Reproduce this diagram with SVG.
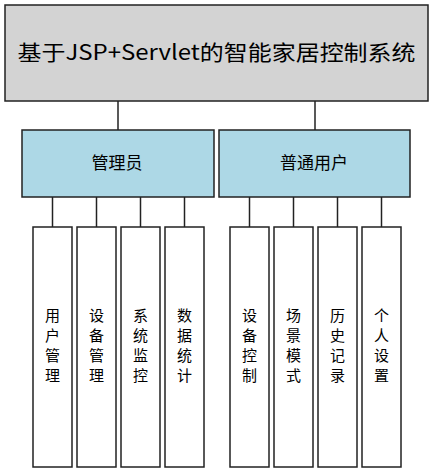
<svg xmlns="http://www.w3.org/2000/svg" width="433" height="473" viewBox="0 0 433 473">
<style>
.box{stroke:#222;stroke-width:1.5}
.top{fill:#d3d3d3}
.mid{fill:#add8e6}
.leaf{fill:#ffffff}
.t{font-family:"Microsoft YaHei","Noto Sans CJK SC","Noto Sans",sans-serif;fill:#000;text-anchor:middle}
.tt{font-size:21px}
.mt{font-size:17px}
.lt{font-size:15px}
#connectors line{stroke:#222;stroke-width:1.5}
</style>
<rect width="433" height="473" fill="#fff"/>
<g id="connectors">
<line x1="118" y1="101" x2="118" y2="130"/>
<line x1="315" y1="101" x2="315" y2="130"/>
<line x1="52.5" y1="197" x2="52.5" y2="227"/>
<line x1="96.5" y1="197" x2="96.5" y2="227"/>
<line x1="140.5" y1="197" x2="140.5" y2="227"/>
<line x1="184.5" y1="197" x2="184.5" y2="227"/>
<line x1="249.5" y1="197" x2="249.5" y2="227"/>
<line x1="293.5" y1="197" x2="293.5" y2="227"/>
<line x1="337.5" y1="197" x2="337.5" y2="227"/>
<line x1="381.5" y1="197" x2="381.5" y2="227"/>
</g>
<g id="root">
<rect class="box top" x="5" y="5" width="423" height="96"/>
<text class="t tt" x="216.5" y="60" textLength="398" lengthAdjust="spacingAndGlyphs">基于JSP+Servlet的智能家居控制系统</text>
</g>
<g id="admin">
<rect class="box mid" x="22" y="130" width="192" height="67"/>
<text class="t mt" x="117" y="169">管理员</text>
</g>
<g id="user">
<rect class="box mid" x="219" y="130" width="191" height="67"/>
<text class="t mt" x="314" y="169">普通用户</text>
</g>
<g id="leaf-user-mgmt">
<rect class="box leaf" x="33" y="227" width="39" height="240"/>
<text class="t lt" x="52.5"><tspan x="52.5" y="321">用</tspan><tspan x="52.5" y="341">户</tspan><tspan x="52.5" y="361">管</tspan><tspan x="52.5" y="381">理</tspan></text>
</g>
<g id="leaf-device-mgmt">
<rect class="box leaf" x="77" y="227" width="39" height="240"/>
<text class="t lt"><tspan x="96.5" y="321">设</tspan><tspan x="96.5" y="341">备</tspan><tspan x="96.5" y="361">管</tspan><tspan x="96.5" y="381">理</tspan></text>
</g>
<g id="leaf-monitor">
<rect class="box leaf" x="121" y="227" width="39" height="240"/>
<text class="t lt"><tspan x="140.5" y="321">系</tspan><tspan x="140.5" y="341">统</tspan><tspan x="140.5" y="361">监</tspan><tspan x="140.5" y="381">控</tspan></text>
</g>
<g id="leaf-stats">
<rect class="box leaf" x="165" y="227" width="39" height="240"/>
<text class="t lt"><tspan x="184.5" y="321">数</tspan><tspan x="184.5" y="341">据</tspan><tspan x="184.5" y="361">统</tspan><tspan x="184.5" y="381">计</tspan></text>
</g>
<g id="leaf-device-ctrl">
<rect class="box leaf" x="230" y="227" width="39" height="240"/>
<text class="t lt"><tspan x="249.5" y="321">设</tspan><tspan x="249.5" y="341">备</tspan><tspan x="249.5" y="361">控</tspan><tspan x="249.5" y="381">制</tspan></text>
</g>
<g id="leaf-scene">
<rect class="box leaf" x="274" y="227" width="39" height="240"/>
<text class="t lt"><tspan x="293.5" y="321">场</tspan><tspan x="293.5" y="341">景</tspan><tspan x="293.5" y="361">模</tspan><tspan x="293.5" y="381">式</tspan></text>
</g>
<g id="leaf-history">
<rect class="box leaf" x="318" y="227" width="39" height="240"/>
<text class="t lt"><tspan x="337.5" y="321">历</tspan><tspan x="337.5" y="341">史</tspan><tspan x="337.5" y="361">记</tspan><tspan x="337.5" y="381">录</tspan></text>
</g>
<g id="leaf-settings">
<rect class="box leaf" x="362" y="227" width="39" height="240"/>
<text class="t lt"><tspan x="381.5" y="321">个</tspan><tspan x="381.5" y="341">人</tspan><tspan x="381.5" y="361">设</tspan><tspan x="381.5" y="381">置</tspan></text>
</g>
</svg>
